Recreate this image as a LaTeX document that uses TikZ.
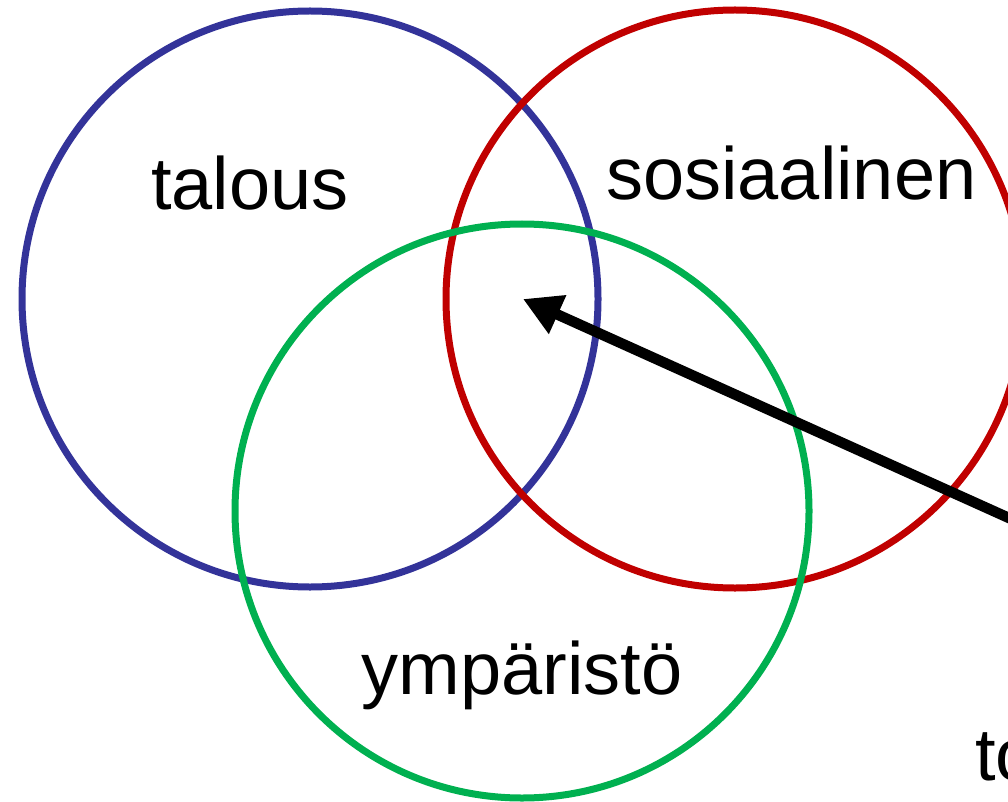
\documentclass[tikz,border=0pt]{standalone}
\usepackage{fontspec}
\setmainfont{Liberation Sans}
\usetikzlibrary{arrows.meta}
\definecolor{cblue}{HTML}{333399}
\definecolor{cred}{HTML}{C00000}
\definecolor{cgreen}{HTML}{00B050}
\begin{document}
\begin{tikzpicture}[x=1pt,y=-1pt,
  ring/.style={line width=7pt},
  lbl/.style={font=\fontsize{74}{88}\selectfont, inner sep=0pt},
  pointer/.style={line width=10.5pt, -{Triangle[length=38pt,width=40pt]}}]
\useasboundingbox (0,0) rectangle (1008,802);
\clip (0,0) rectangle (1008,802);
\draw[ring, cblue] (310,299) circle[radius=288pt];
\draw[ring, cred] (735,299) circle[radius=289pt];
\draw[ring, cgreen] (522,511) circle[radius=287pt];
\node[lbl, anchor=base] (talous) at (250,210) {talous};
\node[lbl, anchor=base west] (sos) at (606,200) {sosiaalinen};
\node[lbl, anchor=base] (ymp) at (522,694) {ympäristö};
\node[lbl, anchor=base west] (to) at (975,780) {to};
\coordinate (tip) at (523,299);
\coordinate (tail) at (1080,550);
\draw[pointer] (tail) -- (tip);
\end{tikzpicture}
\end{document}
